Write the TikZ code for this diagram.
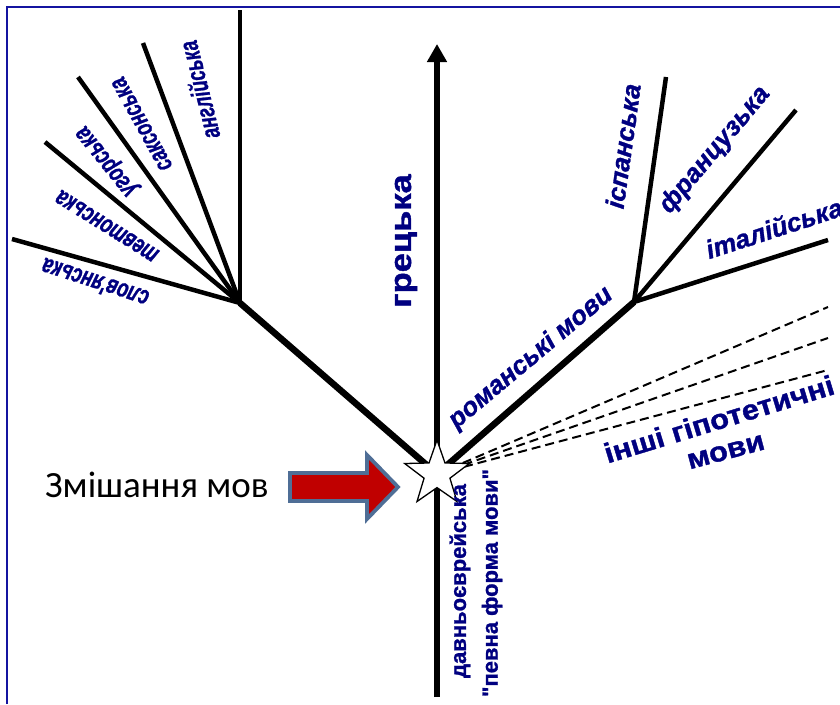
\documentclass[tikz,border=0pt]{standalone}
\usepackage{fontspec}
\newfontfamily\lblfont[FakeBold=1.2]{Liberation Sans}
\newfontfamily\calfont{Carlito}
\usetikzlibrary{arrows.meta,shapes.geometric}

\definecolor{navy}{RGB}{0,0,128}
\definecolor{framecol}{RGB}{20,20,160}
\definecolor{arrowred}{RGB}{192,0,0}
\definecolor{arrowrim}{RGB}{79,110,150}

\tikzset{
  frameline/.style={draw=framecol, line width=2.2pt},
  branch/.style={line width=4.5pt},
  trunk/.style={line width=6.5pt},
  hypo/.style={line width=2pt, dash pattern=on 9pt off 5pt},
  lang/.style={text=navy, inner sep=0pt, xscale=0.92, yscale=1.3, font=\lblfont\bfseries\itshape\fontsize{20}{20}\selectfont},
  bigl/.style={text=navy, inner sep=0pt, font=\lblfont\bfseries\itshape\fontsize{26}{26}\selectfont},
  upl/.style={text=navy, inner sep=0pt, font=\lblfont\bfseries\fontsize{#1}{#1}\selectfont},
  mixarrow/.style={fill=arrowred, draw=arrowrim, line width=3.8pt, line join=miter},
  mixtext/.style={inner sep=0pt, font=\calfont\fontsize{37}{37}\selectfont}
}

\begin{document}
\begin{tikzpicture}[x=1pt,y=-1pt]
\useasboundingbox (0,0) rectangle (840,704);
\draw[frameline] (7,704) -- (7,7) -- (840,7);

% main points
\coordinate (hub) at (437,474);
\coordinate (base) at (437,697);
\coordinate (top) at (437,44);
\coordinate (lfork) at (240,303);
\coordinate (rfork) at (634,302);

% left tree
\foreach \n/\x/\y in {lv/240/10, l1/143/43, l2/78/77, l3/45/142, l4/12/239}
  \coordinate (\n) at (\x,\y);
\draw[trunk] (hub) -- (lfork);
\foreach \n in {lv,l1,l2,l3,l4}
  \draw[branch] (lfork) -- (\n);

% right tree
\foreach \n/\x/\y in {r1/666/77, r2/796/110, r3/828/240}
  \coordinate (\n) at (\x,\y);
\draw[trunk] (hub) -- (rfork);
\foreach \n in {r1,r2,r3}
  \draw[branch] (rfork) -- (\n);

% other languages
\foreach \n/\y in {d1/307, d2/338, d3/370}
  \coordinate (\n) at (828,\y);
\foreach \n in {d1,d2,d3}
  \draw[hypo] (hub) -- (\n);

% main axis
\draw[trunk, -{Triangle[width=19pt,length=18pt]}] (base) -- (top);
\node[star, star points=5, star point ratio=2.5, minimum size=68pt, inner sep=0pt,
      draw, line width=1.3pt, fill=white] (mix) at (hub) {};

% mixing arrow
\draw[mixarrow] (290,473) -- (367,473) -- (367,455) -- (398,487)
  -- (367,519) -- (367,501) -- (290,501) -- cycle;
\node[mixtext, anchor=base west] (mixlbl) at (45,497) {Змішання мов};

% labels
\foreach \x/\y/\a/\t [count=\i] in {199/90/104/англійська, 142/124/119/саксонська,
    108/160/129/угорська, 107/226/148/тевтонська, 95/283/162/слов'янська}
  \node[rotate=\a, lang] (ll\i) at (\x,\y) {\t};
\foreach \x/\y/\a/\t [count=\i] in {623/146/82/іспанська, 715/150/50/французька,
    774/228/18/італійська, 531/358/40/романські мови}
  \node[bigl, rotate=\a] (rl\i) at (\x,\y) {\t};
\node[upl=30, rotate=90, xscale=1.15] (greek) at (406,241) {грецька};
\node[upl=22, rotate=90] (hebr) at (460,581) {давньоєврейська};
\node[upl=22, rotate=90] (form) at (492,583) {"певна форма мови"};
\node[upl=28, rotate=17, xscale=1.1] (hyp1) at (719,419) {інші гіпотетичні};
\node[upl=28, rotate=15, xscale=1.1] (hyp2) at (726,452) {мови};
\end{tikzpicture}
\end{document}
